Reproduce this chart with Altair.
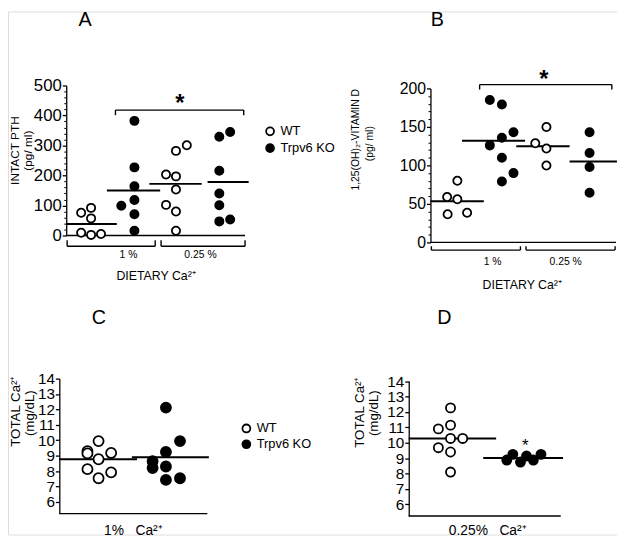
import altair as alt
import pandas as pd

FONT = "Liberation Sans"
GENO = ["WT", "Trpv6 KO"]
NB = "\u00a0"

# ---------------- Panel A : intact PTH (pg/ml) ----------------
a_genotype = ["WT", "Trpv6 KO", "WT", "Trpv6 KO"]          # 1% WT, 1% KO, 0.25% WT, 0.25% KO
a_values = [
    [76, 9, 92, 57, 2, 5],
    [99, 382, 227, 164, 118, 71, 16],
    [203, 102, 197, 153, 80, 16, 282, 301],
    [329, 216, 140, 101, 47, 345, 53],
]
a_jitter = [
    [0.33, 0.33, 0.55, 0.55, 0.55, 0.77],
    [0.22, 0.51, 0.51, 0.51, 0.51, 0.51, 0.51],
    [0.21, 0.21, 0.43, 0.43, 0.43, 0.43, 0.43, 0.67],
    [0.39, 0.39, 0.39, 0.39, 0.39, 0.63, 0.63],
]
a_mean = [38, 150, 172, 178]
a_mean_span = [(0.0, 1.12), (0.9, 2.08), (1.84, 3.0), (3.13, 4.04)]

# ---------------- Panel B : 1,25(OH)2 vitamin D (pg/ml) ----------------
b_genotype = ["WT", "Trpv6 KO", "WT", "Trpv6 KO"]
b_values = [
    [59, 36.5, 56, 80, 38.6],
    [185, 126, 179, 136, 110, 79, 143, 90],
    [128.7, 150, 122, 99.8],
    [143, 116, 98, 64.5],
]
b_jitter = [
    [0.36, 0.37, 0.58, 0.58, 0.79],
    [0.28, 0.28, 0.54, 0.54, 0.54, 0.54, 0.79, 0.79],
    [0.26, 0.50, 0.50, 0.50],
    [0.43, 0.43, 0.43, 0.43],
]
b_mean = [53.5, 132, 125, 105]
b_mean_span = [(0.0, 1.15), (0.68, 2.04), (1.85, 3.0), (3.0, 4.02)]

# ---------------- Panel C : total Ca, 1% Ca diet (mg/dL) ----------------
c_genotype = ["WT", "Trpv6 KO"]
c_values = [
    [9.3, 9.15, 9.95, 9.18, 8.77, 8.13, 7.92, 7.54],
    [12.12, 9.95, 9.24, 8.64, 8.2, 8.3, 7.43, 7.54],
]
c_jitter = [
    [0.38, 0.38, 0.53, 0.70, 0.53, 0.38, 0.70, 0.53],
    [0.44, 0.63, 0.44, 0.26, 0.26, 0.44, 0.44, 0.63],
]
c_mean = [8.77, 8.9]
c_mean_span = [(0.0, 1.05), (0.98, 2.02)]

# ---------------- Panel D : total Ca, 0.25% Ca diet (mg/dL) ----------------
d_genotype = ["WT", "Trpv6 KO"]
d_values = [
    [12.26, 10.9, 11.14, 10.28, 10.28, 9.68, 9.4, 8.1],
    [8.88, 9.25, 8.75, 9.14, 8.88, 9.25],
]
d_jitter = [
    [0.55, 0.39, 0.55, 0.55, 0.71, 0.39, 0.55, 0.55],
    [0.29, 0.37, 0.47, 0.55, 0.64, 0.74],
]
d_mean = [10.28, 9.01]
d_mean_span = [(0.0, 1.15), (0.98, 2.03)]


def points_df(genos, values, jitter):
    rows = []
    for g, (geno, vals, jit) in enumerate(zip(genos, values, jitter)):
        for v, j in zip(vals, jit):
            rows.append({"x": g + j, "y": v, "geno": geno})
    return pd.DataFrame(rows)


def means_df(means, spans):
    return pd.DataFrame({"y": means, "x": [s[0] for s in spans], "x2": [s[1] for s in spans]})


def panel(p):
    xs = alt.Scale(domain=p["xdom"], range=p["xrange"], zero=False, nice=False)
    ys = alt.Scale(domain=p["ydom"], range=p["yrange"], zero=False, nice=False)
    major = alt.Axis(orient="left", offset=-p["axis_x"], values=p["major"], title=None, grid=False,
                     labelFont=FONT, labelFontSize=p["label_size"], labelColor="black", labelPadding=1,
                     labelFlush=False, labelOverlap=False, labelBound=False, format="d",
                     tickColor="black", tickSize=4, tickWidth=1.3,
                     domainColor="black", domainWidth=1.3)
    layers = []
    base = pd.DataFrame({"x": [p["xdom"][0]], "x2": [p["base_end"]], "y": [p["base_y"]]})
    if p["minor"]:
        minor = alt.Axis(orient="left", offset=-p["axis_x"], values=p["minor"], title=None, grid=False,
                         labels=False, domain=False, tickColor="black", tickSize=2.5, tickWidth=1)
    else:
        minor = None
    layers.append(alt.Chart(base).mark_rule(color="black", strokeWidth=1.3).encode(
        x=alt.X("x:Q", scale=xs, axis=None), x2="x2:Q",
        y=alt.Y("y:Q", scale=ys, axis=minor)))
    layers.append(alt.Chart(p["means"]).mark_rule(color="black", strokeWidth=2).encode(
        x=alt.X("x:Q", scale=xs, axis=None), x2="x2:Q",
        y=alt.Y("y:Q", scale=ys, axis=None)))
    if p["brackets"] is not None:
        layers.append(alt.Chart(p["brackets"]).mark_rule(color="black", strokeWidth=1.4).encode(
            x=alt.X("x:Q", scale=xs, axis=None), x2="x2:Q",
            y=alt.Y("y:Q", scale=ys, axis=None)))
        layers.append(alt.Chart(p["bracket_ends"]).mark_rule(color="black", strokeWidth=1.4).encode(
            x=alt.X("x:Q", scale=xs, axis=None),
            y=alt.Y("y:Q", scale=ys, axis=None), y2="y2:Q"))
    leg = p["legend"]
    layers.append(alt.Chart(p["points"]).mark_point(
        shape="circle", filled=True, size=p["pt_size"], stroke="black", strokeWidth=1.8, opacity=1
    ).encode(
        x=alt.X("x:Q", scale=xs, axis=None),
        y=alt.Y("y:Q", scale=ys, axis=major),
        fill=alt.Fill("geno:N", scale=alt.Scale(domain=GENO, range=["white", "black"]),
                      legend=None if leg is None else alt.Legend(
                          orient="none", legendX=leg[0], legendY=leg[1], title=None,
                          labelFont=FONT, labelFontSize=13, labelColor="black", labelOffset=4,
                          symbolSize=64, symbolStrokeWidth=1.8, symbolStrokeColor="black",
                          rowPadding=leg[2], padding=0, offset=0)),
    ))
    return alt.layer(*layers).resolve_axis(y="independent")


def bracket(spans, level):
    return pd.DataFrame({"x": [s[0] for s in spans], "x2": [s[1] for s in spans], "y": [level] * len(spans)})


def bracket_ends(spans, level, tip):
    xs = [v for s in spans for v in s]
    return pd.DataFrame({"x": xs, "y": [level] * len(xs), "y2": [tip] * len(xs)})


a_spans = [(0.02, 1.97), (2.10, 3.96)]
a_sig = [(1.09, 3.93)]
A = panel(dict(
    xdom=[0, 4], xrange=[59, 242], ydom=[0, 500], yrange=[227, 75], axis_x=59,
    major=[0, 100, 200, 300, 400, 500], minor=[v for v in range(0, 501, 20) if v % 100],
    label_size=17, pt_size=69, base_end=3.96, base_y=0,
    means=means_df(a_mean, a_mean_span), points=points_df(a_genotype, a_values, a_jitter),
    brackets=pd.concat([bracket(a_spans, -36), bracket(a_sig, 418)]),
    bracket_ends=pd.concat([bracket_ends(a_spans, -36, -16), bracket_ends(a_sig, 418, 401)]),
    legend=(259, 115, 0),
))

b_spans = [(0.02, 1.94), (2.06, 3.98)]
b_sig = [(1.06, 3.91)]
B = panel(dict(
    xdom=[0, 4], xrange=[428, 616], ydom=[0, 200], yrange=[234, 78], axis_x=428,
    major=[0, 50, 100, 150, 200], minor=[v for v in range(0, 201, 10) if v % 50],
    label_size=16, pt_size=69, base_end=4.0, base_y=0,
    means=means_df(b_mean, b_mean_span), points=points_df(b_genotype, b_values, b_jitter),
    brackets=pd.concat([bracket(b_spans, -10), bracket(b_sig, 205)]),
    bracket_ends=pd.concat([bracket_ends(b_spans, -10, -5), bracket_ends(b_sig, 205, 198.5)]),
    legend=None,
))

C = panel(dict(
    xdom=[0, 2], xrange=[52, 202], ydom=[5.25, 14], yrange=[508.7, 372], axis_x=52,
    major=list(range(6, 15)), minor=None,
    label_size=15.5, pt_size=104, base_end=2.0, base_y=5.25,
    means=means_df(c_mean, c_mean_span), points=points_df(c_genotype, c_values, c_jitter),
    brackets=None, bracket_ends=None,
    legend=(235, 416, -1),
))

D = panel(dict(
    xdom=[0, 2], xrange=[406, 560], ydom=[5.25, 14], yrange=[511.2, 374.5], axis_x=406,
    major=list(range(6, 15)), minor=None,
    label_size=15.5, pt_size=85, base_end=2.0, base_y=5.25,
    means=means_df(d_mean, d_mean_span), points=points_df(d_genotype, d_values, d_jitter),
    brackets=None, bracket_ends=None,
    legend=None,
))


def txt(s, x, y, size, angle=0, weight="normal"):
    return alt.Chart(pd.DataFrame({"t": [s]})).mark_text(
        align="center", baseline="alphabetic", angle=angle, font=FONT,
        fontSize=size, fontWeight=weight, color="black"
    ).encode(x=alt.value(x), y=alt.value(y), text="t:N")


texts = alt.layer(
    txt("A", 78, 14.7, 20), txt("B", 435, 14.3, 20), txt("C", 92, 317, 20), txt("D", 442, 317, 20),
    txt("INTACT PTH", 11, 141, 12, 270), txt("(pg/ ml)", 24, 141, 12, 270),
    txt("1,25(OH)₂-VITAMIN D", 356, 130, 10.5, 270), txt("(pg/ ml)", 370, 134, 10.5, 270),
    txt("TOTAL Ca²⁺", 12.5, 405, 13.5, 270), txt("(mg/dL)", 26, 407, 13.5, 270),
    txt("TOTAL Ca²⁺", 361, 406, 13.5, 270), txt("(mg/dL)", 374.5, 407, 13.5, 270),
    txt("1 %", 122, 249.6, 10.5), txt("0.25 %", 195, 249.6, 10.5), txt("DIETARY Ca²⁺", 150, 272, 12.5),
    txt("1 %", 491, 256.6, 10.5), txt("0.25 %", 565, 256.6, 10.5), txt("DIETARY Ca²⁺", 521, 281.5, 12.5),
    txt("1%" + NB * 3 + "Ca²⁺", 127, 530, 14), txt("0.25%" + NB * 3 + "Ca²⁺", 486, 530, 14),
    txt("*", 174, 100.5, 24, 0, "bold"), txt("*", 543, 76.5, 24, 0, "bold"), txt("*", 524, 445.7, 17),
)

chart = alt.layer(A, B, C, D, texts).resolve_scale(
    x="independent", y="independent", fill="independent"
).properties(
    width=617, height=530, padding=0, autosize=alt.AutoSizeParams(type="none")
).configure_view(stroke=None).configure(background="white")

chart.save("out.html", embed_options={"renderer": "svg", "actions": False})
